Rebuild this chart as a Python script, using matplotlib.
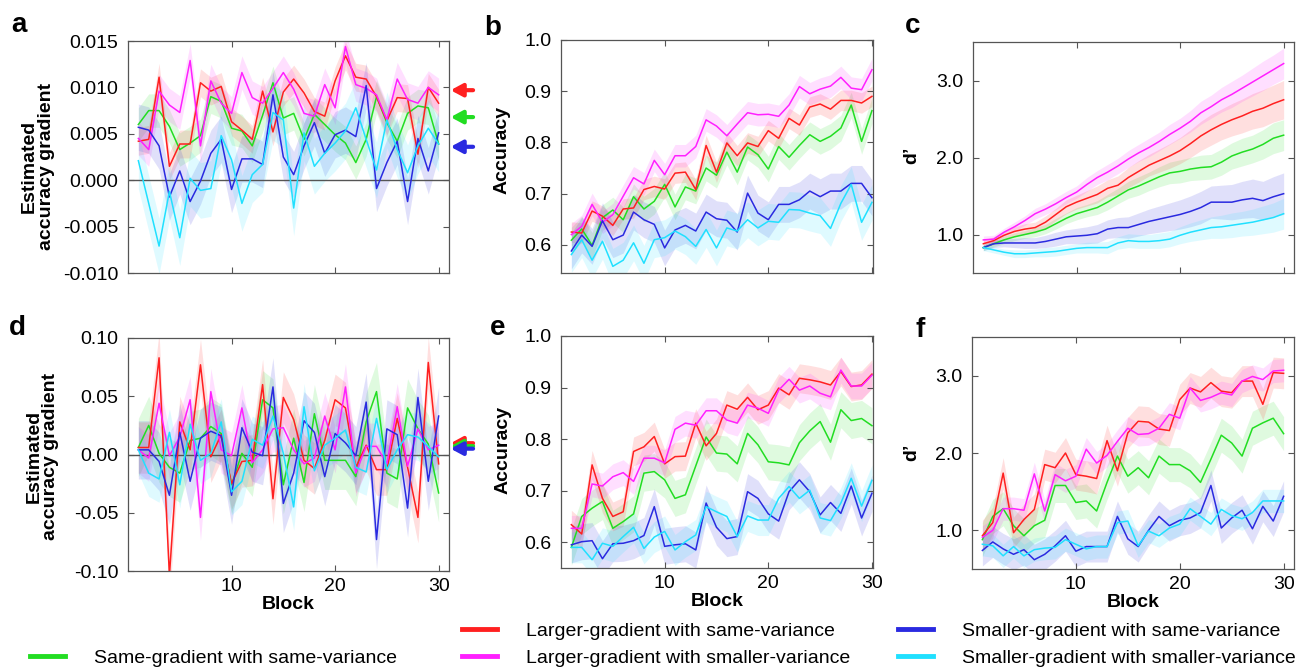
import numpy as np
import matplotlib.pyplot as plt
from matplotlib.lines import Line2D
from matplotlib.ticker import FormatStrFormatter

plt.rcParams['font.family'] = ['Liberation Sans', 'DejaVu Sans']

W, H = 1298, 669
blocks = np.arange(1, 31)

# series order: green, red, magenta, blue, cyan
names = ['green', 'red', 'magenta', 'blue', 'cyan']
labels = {
    'green': 'Same-gradient with same-variance',
    'red': 'Larger-gradient with same-variance',
    'magenta': 'Larger-gradient with smaller-variance',
    'blue': 'Smaller-gradient with same-variance',
    'cyan': 'Smaller-gradient with smaller-variance',
}
colors = {'green': '#22dd22', 'red': '#ff2020', 'magenta': '#ff20ff',
          'blue': '#2a2ae0', 'cyan': '#20e0ff'}

# ---- panel a: estimated accuracy gradient (experiment 1)
a_green = [0.0060, 0.0075, 0.0075, 0.0058, 0.0033, 0.0040, 0.0048, 0.0090, 0.0085, 0.0056,
           0.0053, 0.0037, 0.0070, 0.0105, 0.0067, 0.0072, 0.0044, 0.0071, 0.0060, 0.0049,
           0.0040, 0.0019, 0.0044, 0.0090, 0.0062, 0.0042, 0.0072, 0.0080, 0.0078, 0.0039]
a_red = [0.0042, 0.0044, 0.0111, 0.0015, 0.0039, 0.0039, 0.0105, 0.0096, 0.0101, 0.0063,
         0.0054, 0.0044, 0.0096, 0.0052, 0.0095, 0.0109, 0.0094, 0.0074, 0.0069, 0.0107,
         0.0134, 0.0111, 0.0109, 0.0090, 0.0064, 0.0089, 0.0088, 0.0028, 0.0100, 0.0083]
a_magenta = [0.0045, 0.0033, 0.0096, 0.0081, 0.0073, 0.0129, 0.0037, 0.0107, 0.0083, 0.0072,
             0.0116, 0.0089, 0.0083, 0.0099, 0.0116, 0.0098, 0.0072, 0.0069, 0.0103, 0.0078,
             0.0144, 0.0103, 0.0099, 0.0092, 0.0065, 0.0109, 0.0087, 0.0083, 0.0100, 0.0092]
a_blue = [0.0057, 0.0054, 0.0037, -0.0018, 0.0010, -0.0023, -0.0001, 0.0029, 0.0044, -0.0010,
          0.0023, 0.0023, 0.0017, 0.0092, 0.0025, 0.0006, 0.0037, 0.0062, 0.0029, 0.0049,
          0.0054, 0.0047, 0.0102, -0.0009, 0.0019, 0.0042, -0.0023, 0.0045, 0.0010, 0.0051]
a_cyan = [0.0021, -0.0025, -0.0071, -0.0012, -0.0062, 0.0002, -0.0011, -0.0009, 0.0048, 0.0022,
          -0.0025, 0.0006, 0.0017, 0.0073, 0.0065, -0.0030, 0.0051, 0.0015, 0.0029, 0.0040,
          0.0053, 0.0078, 0.0044, 0.0011, 0.0065, 0.0033, 0.0008, 0.0037, 0.0056, 0.0039]
a_sem = [0.0018, 0.0015, 0.0018, 0.0025, 0.0030]
a_arrows = [0.0097, 0.0068, 0.0036]  # red, green, blue

# ---- panel b: accuracy (experiment 1)
b_green = [0.609, 0.631, 0.599, 0.653, 0.668, 0.649, 0.694, 0.670, 0.685, 0.718,
           0.674, 0.713, 0.705, 0.750, 0.736, 0.781, 0.742, 0.791, 0.776, 0.748,
           0.792, 0.771, 0.794, 0.815, 0.802, 0.812, 0.828, 0.873, 0.802, 0.862]
b_red = [0.625, 0.623, 0.666, 0.656, 0.638, 0.670, 0.672, 0.708, 0.714, 0.709,
         0.740, 0.742, 0.708, 0.794, 0.742, 0.799, 0.774, 0.799, 0.792, 0.823,
         0.808, 0.847, 0.834, 0.869, 0.875, 0.865, 0.882, 0.882, 0.877, 0.890]
b_magenta = [0.620, 0.636, 0.679, 0.644, 0.659, 0.695, 0.731, 0.719, 0.765, 0.737,
             0.774, 0.774, 0.792, 0.844, 0.832, 0.813, 0.836, 0.858, 0.854, 0.855,
             0.851, 0.873, 0.909, 0.895, 0.904, 0.910, 0.927, 0.906, 0.903, 0.942]
b_blue = [0.588, 0.619, 0.597, 0.647, 0.610, 0.619, 0.664, 0.649, 0.640, 0.594,
          0.629, 0.638, 0.627, 0.664, 0.651, 0.648, 0.625, 0.701, 0.662, 0.649,
          0.679, 0.679, 0.688, 0.705, 0.694, 0.705, 0.705, 0.720, 0.720, 0.692]
b_cyan = [0.581, 0.610, 0.570, 0.607, 0.558, 0.570, 0.604, 0.564, 0.610, 0.614,
          0.627, 0.616, 0.597, 0.630, 0.594, 0.633, 0.627, 0.649, 0.633, 0.646,
          0.644, 0.669, 0.668, 0.662, 0.657, 0.632, 0.681, 0.718, 0.644, 0.683]
b_sem = [0.025, 0.020, 0.022, 0.035, 0.035]

# ---- panel c: d' (experiment 1)
c_green = [0.83, 0.88, 0.93, 0.97, 1.00, 1.03, 1.07, 1.14, 1.21, 1.27,
           1.31, 1.35, 1.42, 1.50, 1.58, 1.63, 1.69, 1.75, 1.80, 1.82,
           1.85, 1.87, 1.88, 1.94, 2.02, 2.07, 2.11, 2.17, 2.25, 2.29]
c_red = [0.88, 0.92, 0.99, 1.04, 1.07, 1.09, 1.16, 1.26, 1.36, 1.42,
         1.47, 1.52, 1.60, 1.64, 1.74, 1.82, 1.90, 1.96, 2.02, 2.09,
         2.18, 2.28, 2.36, 2.43, 2.49, 2.54, 2.60, 2.64, 2.70, 2.75]
c_magenta = [0.93, 0.94, 1.03, 1.10, 1.18, 1.27, 1.33, 1.40, 1.48, 1.55,
             1.65, 1.74, 1.81, 1.89, 1.98, 2.06, 2.13, 2.21, 2.30, 2.38,
             2.47, 2.58, 2.66, 2.75, 2.82, 2.90, 2.98, 3.06, 3.14, 3.22]
c_blue = [0.83, 0.88, 0.89, 0.89, 0.89, 0.89, 0.91, 0.94, 0.97, 0.98,
          0.99, 1.01, 1.07, 1.09, 1.09, 1.13, 1.17, 1.20, 1.23, 1.26,
          1.30, 1.35, 1.42, 1.42, 1.42, 1.45, 1.47, 1.44, 1.49, 1.53]
c_cyan = [0.83, 0.80, 0.77, 0.75, 0.75, 0.76, 0.77, 0.78, 0.80, 0.82,
          0.83, 0.83, 0.83, 0.89, 0.92, 0.91, 0.91, 0.92, 0.94, 0.99,
          1.03, 1.06, 1.09, 1.10, 1.12, 1.14, 1.16, 1.19, 1.22, 1.27]
c_green_sem = [0.04, 0.04, 0.05, 0.05, 0.05, 0.06, 0.06, 0.07, 0.07, 0.08,
               0.08, 0.09, 0.10, 0.10, 0.11, 0.12, 0.12, 0.13, 0.14, 0.15,
               0.15, 0.16, 0.16, 0.17, 0.17, 0.18, 0.18, 0.19, 0.20, 0.20]
c_red_sem = [0.05, 0.05, 0.06, 0.06, 0.07, 0.07, 0.08, 0.08, 0.09, 0.09,
             0.10, 0.11, 0.11, 0.12, 0.13, 0.14, 0.14, 0.15, 0.16, 0.17,
             0.18, 0.19, 0.20, 0.20, 0.21, 0.22, 0.23, 0.24, 0.24, 0.25]
c_magenta_sem = [0.05, 0.05, 0.05, 0.06, 0.06, 0.07, 0.07, 0.08, 0.08, 0.08,
                 0.09, 0.09, 0.10, 0.10, 0.11, 0.11, 0.12, 0.12, 0.13, 0.13,
                 0.14, 0.15, 0.15, 0.16, 0.17, 0.17, 0.18, 0.19, 0.19, 0.20]
c_blue_sem = [0.04, 0.05, 0.05, 0.06, 0.07, 0.07, 0.08, 0.09, 0.09, 0.10,
              0.11, 0.12, 0.12, 0.13, 0.14, 0.15, 0.16, 0.17, 0.18, 0.19,
              0.20, 0.21, 0.21, 0.22, 0.23, 0.24, 0.25, 0.25, 0.26, 0.27]
c_cyan_sem = [0.04, 0.04, 0.04, 0.05, 0.05, 0.05, 0.06, 0.06, 0.06, 0.06,
              0.07, 0.07, 0.08, 0.08, 0.09, 0.09, 0.09, 0.10, 0.10, 0.11,
              0.12, 0.13, 0.14, 0.15, 0.16, 0.16, 0.17, 0.18, 0.19, 0.20]

# ---- panel d: estimated accuracy gradient (experiment 2)
d_green = [0.006, 0.025, 0.001, -0.011, -0.016, 0.012, 0.014, 0.024, 0.018, -0.026,
           0.001, -0.011, 0.047, 0.040, -0.026, 0.014, -0.024, 0.035, -0.005, -0.005,
           -0.005, -0.019, 0.028, 0.054, -0.016, -0.021, 0.040, 0.022, 0.009, -0.033]
d_red = [0.006, 0.006, 0.083, -0.104, 0.028, 0.004, 0.077, -0.002, 0.017, -0.025,
         -0.006, -0.005, 0.060, -0.038, 0.049, 0.030, -0.005, -0.012, 0.012, 0.047,
         0.040, -0.011, 0.008, -0.013, -0.013, 0.031, -0.011, -0.054, 0.079, -0.008]
d_magenta = [0.004, -0.003, 0.044, -0.001, 0.015, 0.047, -0.054, 0.054, 0.004, -0.001,
             0.040, -0.007, 0.004, 0.022, 0.023, 0.004, -0.008, -0.003, 0.033, 0.004,
             0.058, -0.016, 0.007, 0.007, -0.008, 0.041, -0.010, 0.022, 0.004, 0.008]
d_blue = [0.004, 0.004, -0.006, -0.035, 0.019, -0.023, 0.014, 0.020, 0.016, -0.035,
          0.023, 0.002, -0.001, 0.058, -0.042, -0.016, 0.029, 0.019, -0.019, 0.018,
          0.010, -0.001, 0.045, -0.073, 0.022, 0.017, -0.046, 0.049, -0.023, 0.033]
d_cyan = [0.004, -0.016, -0.021, 0.019, -0.026, 0.026, -0.005, 0.001, 0.028, -0.032,
          -0.023, 0.013, 0.008, 0.033, 0.001, -0.045, 0.041, -0.014, 0.008, 0.014,
          0.021, -0.011, -0.015, 0.031, -0.013, 0.004, 0.017, 0.015, 0.007, -0.002]
d_sem = [0.025, 0.022, 0.020, 0.025, 0.020]
d_arrows = [0.0097, 0.0072, 0.0050]  # red, green, blue

# ---- panel e: accuracy (experiment 2)
e_green = [0.590, 0.650, 0.666, 0.679, 0.627, 0.640, 0.655, 0.734, 0.737, 0.721,
           0.685, 0.692, 0.748, 0.804, 0.773, 0.771, 0.752, 0.811, 0.789, 0.756,
           0.754, 0.750, 0.793, 0.816, 0.834, 0.794, 0.857, 0.836, 0.840, 0.826]
e_red = [0.634, 0.616, 0.750, 0.685, 0.650, 0.659, 0.776, 0.785, 0.805, 0.752,
         0.766, 0.767, 0.831, 0.787, 0.811, 0.866, 0.858, 0.881, 0.857, 0.866,
         0.899, 0.886, 0.918, 0.915, 0.911, 0.905, 0.931, 0.902, 0.905, 0.926]
e_magenta = [0.627, 0.627, 0.713, 0.709, 0.727, 0.735, 0.718, 0.763, 0.763, 0.754,
             0.819, 0.831, 0.827, 0.855, 0.855, 0.837, 0.831, 0.866, 0.860, 0.850,
             0.895, 0.916, 0.895, 0.903, 0.889, 0.882, 0.934, 0.903, 0.903, 0.924]
e_blue = [0.595, 0.601, 0.603, 0.568, 0.597, 0.598, 0.603, 0.613, 0.669, 0.592,
          0.595, 0.597, 0.585, 0.676, 0.629, 0.607, 0.611, 0.698, 0.685, 0.655,
          0.641, 0.698, 0.721, 0.698, 0.653, 0.677, 0.656, 0.709, 0.647, 0.695]
e_cyan = [0.590, 0.590, 0.566, 0.598, 0.592, 0.611, 0.629, 0.588, 0.610, 0.621,
          0.585, 0.601, 0.614, 0.669, 0.659, 0.650, 0.611, 0.651, 0.643, 0.643,
          0.685, 0.708, 0.685, 0.701, 0.647, 0.642, 0.676, 0.724, 0.670, 0.720]
e_sem = [0.035, 0.028, 0.025, 0.035, 0.030]

# ---- panel f: d' (experiment 2)
f_green = [0.88, 1.18, 1.28, 1.06, 0.93, 1.06, 1.13, 1.58, 1.58, 1.36,
           1.38, 1.25, 1.62, 1.96, 1.70, 1.81, 1.68, 1.96, 1.85, 1.85,
           1.77, 1.62, 1.92, 2.23, 2.13, 1.96, 2.32, 2.39, 2.45, 2.25]
f_red = [0.93, 1.10, 1.74, 0.97, 1.14, 1.27, 1.85, 1.81, 2.00, 1.72,
         1.70, 1.67, 2.16, 1.77, 2.26, 2.41, 2.40, 2.31, 2.29, 2.69,
         2.84, 2.79, 2.91, 2.80, 2.78, 2.93, 2.93, 2.63, 3.04, 3.03]
f_magenta = [0.91, 1.00, 1.28, 1.28, 1.26, 1.73, 1.25, 1.72, 1.64, 1.70,
             2.05, 1.87, 1.97, 2.15, 2.32, 2.24, 2.25, 2.32, 2.50, 2.45,
             2.84, 2.68, 2.72, 2.78, 2.75, 2.93, 2.99, 2.95, 3.06, 3.07]
f_blue = [0.74, 0.85, 0.76, 0.69, 0.75, 0.62, 0.69, 0.80, 0.93, 0.73,
          0.79, 0.79, 0.79, 1.18, 0.89, 0.79, 1.00, 1.18, 1.06, 1.13,
          1.16, 1.23, 1.58, 1.03, 1.16, 1.26, 1.02, 1.31, 1.12, 1.44]
f_cyan = [0.82, 0.80, 0.67, 0.79, 0.67, 0.75, 0.77, 0.78, 0.88, 0.82,
          0.76, 0.79, 0.79, 1.10, 1.12, 0.80, 0.99, 0.93, 1.03, 1.08,
          1.28, 1.18, 1.08, 1.27, 1.19, 1.15, 1.23, 1.38, 1.38, 1.38]
f_sem = [0.22, 0.20, 0.15, 0.20, 0.15]

FS = 14
EDGE = '#555555'


def add_axes_px(fig, left, top, right, bottom):
    return fig.add_axes([left / W, 1 - bottom / H, (right - left) / W, (bottom - top) / H])


def draw_panel(ax, series, sems, xlim, ylim, yticks, fmt, bottom_row):
    for key, y, s in zip(names, series, sems):
        y = np.asarray(y, dtype=float)
        s = np.broadcast_to(np.asarray(s, dtype=float), y.shape)
        ax.fill_between(blocks, y - s, y + s, color=colors[key], alpha=0.14, lw=0)
    for key, y in zip(names, series):
        ax.plot(blocks, y, color=colors[key], lw=1.1)
    ax.set_xlim(*xlim)
    ax.set_ylim(*ylim)
    ax.set_xticks([10, 20, 30])
    ax.set_yticks(yticks)
    ax.yaxis.set_major_formatter(FormatStrFormatter(fmt))
    ax.tick_params(direction='in', top=True, right=True, length=4, width=0.8,
                   color=EDGE, labelsize=FS)
    ax.tick_params(axis='y', pad=7)
    ax.tick_params(axis='x', pad=5)
    for sp in ax.spines.values():
        sp.set_color(EDGE)
        sp.set_linewidth(0.9)
    if bottom_row:
        ax.set_xlabel('Block', fontsize=FS, fontweight='bold', labelpad=1)
    else:
        ax.tick_params(axis='x', labelbottom=False)


def add_arrows(ax, values):
    for val, key in zip(values, ['red', 'green', 'blue']):
        ax.annotate('', xy=(1.005, val), xycoords=('axes fraction', 'data'),
                    xytext=(1.075, val), textcoords=('axes fraction', 'data'),
                    arrowprops=dict(arrowstyle='-|>,head_length=0.5,head_width=0.27',
                                    color=colors[key], lw=3.0, shrinkA=0, shrinkB=0,
                                    mutation_scale=14),
                    annotation_clip=False)


fig = plt.figure(figsize=(W / 100, H / 100), dpi=100)

ax_a = add_axes_px(fig, 128, 41, 449, 273)
ax_b = add_axes_px(fig, 561, 40, 873, 273)
ax_c = add_axes_px(fig, 973, 42, 1294, 273)
ax_d = add_axes_px(fig, 128, 338, 449, 571)
ax_e = add_axes_px(fig, 561, 336, 873, 568)
ax_f = add_axes_px(fig, 972, 337, 1294, 569)

draw_panel(ax_a, [a_green, a_red, a_magenta, a_blue, a_cyan], a_sem, (0, 31),
           (-0.010, 0.015), [-0.010, -0.005, 0.0, 0.005, 0.010, 0.015], '%.3f', False)
ax_a.axhline(0, color='#555555', lw=1.0, zorder=1)
add_arrows(ax_a, a_arrows)

draw_panel(ax_b, [b_green, b_red, b_magenta, b_blue, b_cyan], b_sem, (0, 30.1),
           (0.545, 1.0), [0.6, 0.7, 0.8, 0.9, 1.0], '%.1f', False)

draw_panel(ax_c, [c_green, c_red, c_magenta, c_blue, c_cyan],
           [c_green_sem, c_red_sem, c_magenta_sem, c_blue_sem, c_cyan_sem], (0, 31),
           (0.5, 3.5), [1.0, 2.0, 3.0], '%.1f', False)

draw_panel(ax_d, [d_green, d_red, d_magenta, d_blue, d_cyan], d_sem, (0, 31),
           (-0.10, 0.10), [-0.10, -0.05, 0.0, 0.05, 0.10], '%.2f', True)
ax_d.axhline(0, color='#555555', lw=1.0, zorder=1)
add_arrows(ax_d, d_arrows)

draw_panel(ax_e, [e_green, e_red, e_magenta, e_blue, e_cyan], e_sem, (0, 30.1),
           (0.55, 1.0), [0.6, 0.7, 0.8, 0.9, 1.0], '%.1f', True)

draw_panel(ax_f, [f_green, f_red, f_magenta, f_blue, f_cyan], f_sem, (0, 31),
           (0.5, 3.5), [1.0, 2.0, 3.0], '%.1f', True)

# y labels
ylab = dict(fontsize=FS, fontweight='bold')
ax_a.set_ylabel('Estimated\naccuracy gradient', linespacing=1.0, **ylab)
ax_a.yaxis.set_label_coords(-0.227, 0.46)
ax_b.set_ylabel('Accuracy', **ylab)
ax_b.yaxis.set_label_coords(-0.162, 0.53)
ax_c.set_ylabel('d\u2019', **ylab)
ax_c.yaxis.set_label_coords(-0.164, 0.51)
ax_d.set_ylabel('Estimated\naccuracy gradient', linespacing=1.0, **ylab)
ax_d.yaxis.set_label_coords(-0.214, 0.49)
ax_e.set_ylabel('Accuracy', **ylab)
ax_e.yaxis.set_label_coords(-0.160, 0.51)
ax_f.set_ylabel('d\u2019', **ylab)
ax_f.yaxis.set_label_coords(-0.160, 0.505)

# panel letters
for letter, x, y in [('a', 11, 32), ('b', 484, 35), ('c', 905, 33),
                     ('d', 9, 335), ('e', 490, 335), ('f', 915, 337)]:
    fig.text(x / W, 1 - y / H, letter, fontsize=20, fontweight='bold', va='baseline')

# legend entries placed like the original three-column block
for key, x, y in [('green', 30, 658), ('red', 462, 631), ('magenta', 462, 658),
                  ('blue', 898, 631), ('cyan', 898, 658)]:
    fig.legend([Line2D([], [], color=colors[key], lw=3.5)], [labels[key]],
               loc='center left', bbox_to_anchor=(x / W, 1 - y / H), frameon=False,
               fontsize=FS, handlelength=1.8, handletextpad=1.5, borderpad=0,
               borderaxespad=0)

fig.savefig('out.png', dpi=100)
